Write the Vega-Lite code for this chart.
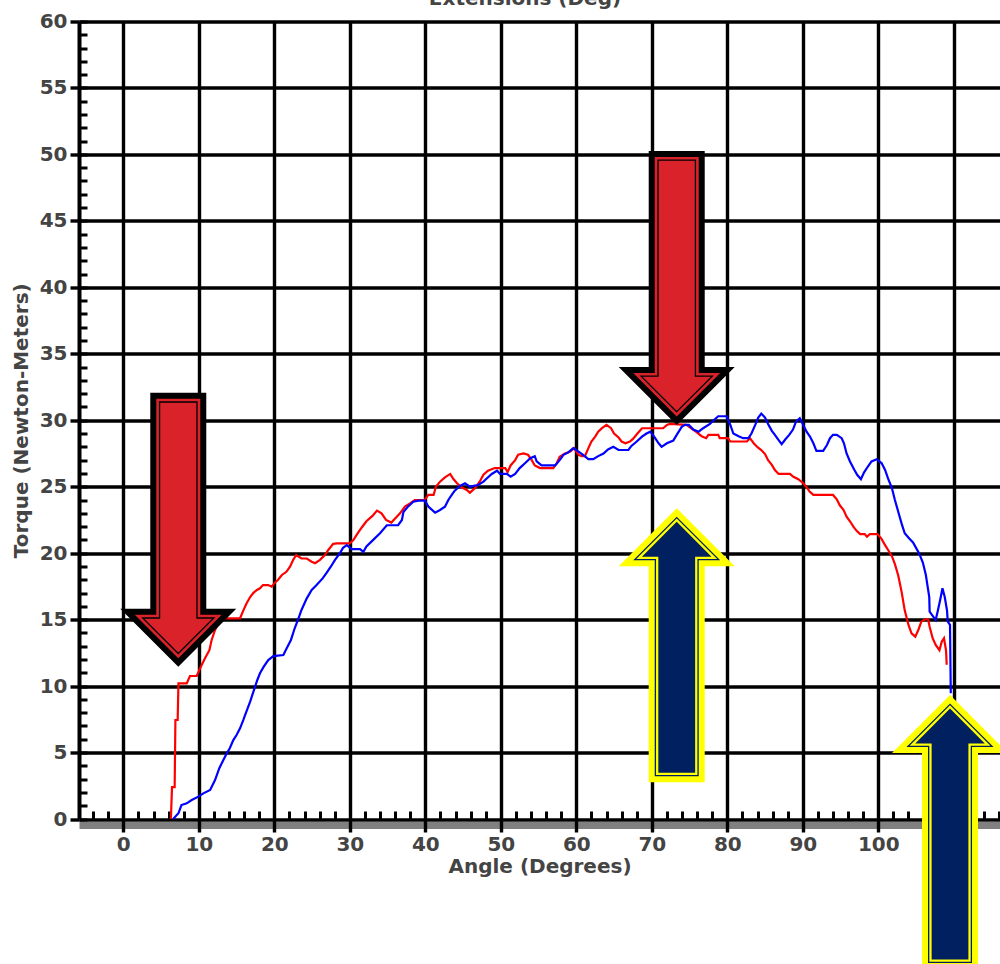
{
  "$schema": "https://vega.github.io/schema/vega-lite/v6.json",
  "width": 921,
  "height": 797.5,
  "autosize": {"type": "none"},
  "padding": {"left": 79, "top": 21.5, "right": 0, "bottom": 145},
  "background": "white",
  "config": {"view": {"stroke": null}},
  "datasets": {
    "red": [
      {"x":6.3,"y":0},{"x":6.45,"y":2.4},{"x":6.8,"y":2.4},{"x":6.9,"y":7.45},{"x":7.2,"y":7.45},{"x":7.3,"y":10.2},{"x":8.4,"y":10.2},{"x":8.83,"y":10.76},{"x":9.72,"y":10.76},{"x":10.03,"y":11.16},{"x":10.38,"y":11.59},{"x":10.82,"y":12.09},{"x":11.4,"y":12.7},{"x":11.7,"y":13.47},{"x":12.15,"y":14.22},{"x":12.6,"y":14.72},{"x":13.2,"y":15.1},{"x":14.36,"y":15.1},{"x":15.46,"y":15.1},{"x":15.9,"y":15.7},{"x":16.3,"y":16.2},{"x":16.8,"y":16.7},{"x":17.2,"y":17.0},{"x":17.7,"y":17.23},{"x":18.1,"y":17.36},{"x":18.5,"y":17.6},{"x":19.2,"y":17.6},{"x":19.65,"y":17.48},{"x":20.1,"y":17.8},{"x":20.5,"y":18.0},{"x":21.0,"y":18.36},{"x":21.6,"y":18.6},{"x":22.1,"y":19.0},{"x":22.5,"y":19.5},{"x":22.9,"y":19.86},{"x":23.6,"y":19.6},{"x":24.3,"y":19.6},{"x":24.95,"y":19.36},{"x":25.4,"y":19.24},{"x":26.05,"y":19.5},{"x":26.7,"y":19.86},{"x":27.15,"y":20.24},{"x":27.8,"y":20.7},{"x":28.3,"y":20.74},{"x":30.0,"y":20.74},{"x":30.5,"y":21.0},{"x":30.9,"y":21.37},{"x":31.35,"y":21.75},{"x":31.8,"y":22.1},{"x":32.2,"y":22.4},{"x":33.0,"y":22.8},{"x":33.6,"y":23.2},{"x":34.2,"y":23.0},{"x":34.8,"y":22.5},{"x":35.5,"y":22.3},{"x":36.0,"y":22.6},{"x":36.65,"y":23.0},{"x":37.3,"y":23.5},{"x":37.97,"y":23.75},{"x":38.6,"y":24.0},{"x":39.9,"y":24.0},{"x":40.4,"y":24.38},{"x":41.1,"y":24.38},{"x":41.4,"y":25.0},{"x":41.95,"y":25.38},{"x":42.6,"y":25.7},{"x":43.3,"y":25.96},{"x":43.7,"y":25.6},{"x":44.2,"y":25.26},{"x":44.8,"y":24.96},{"x":45.5,"y":24.75},{"x":45.9,"y":24.55},{"x":46.6,"y":24.9},{"x":47.2,"y":25.38},{"x":47.7,"y":25.9},{"x":48.3,"y":26.2},{"x":49.2,"y":26.4},{"x":50.6,"y":26.4},{"x":50.9,"y":26.1},{"x":51.3,"y":26.6},{"x":51.9,"y":27.0},{"x":52.3,"y":27.4},{"x":53.0,"y":27.5},{"x":53.6,"y":27.4},{"x":54.1,"y":27.0},{"x":54.5,"y":26.6},{"x":55.2,"y":26.4},{"x":56.96,"y":26.4},{"x":57.4,"y":26.76},{"x":57.8,"y":27.26},{"x":58.5,"y":27.5},{"x":59.2,"y":27.64},{"x":59.7,"y":27.9},{"x":60.3,"y":27.4},{"x":60.7,"y":27.3},{"x":61.15,"y":27.3},{"x":61.6,"y":27.9},{"x":62.0,"y":28.4},{"x":62.5,"y":28.77},{"x":62.9,"y":29.14},{"x":63.4,"y":29.4},{"x":64.0,"y":29.65},{"x":64.6,"y":29.4},{"x":65.0,"y":29.0},{"x":65.6,"y":28.7},{"x":66.0,"y":28.4},{"x":66.5,"y":28.27},{"x":67.1,"y":28.4},{"x":67.5,"y":28.6},{"x":68.1,"y":29.0},{"x":68.7,"y":29.4},{"x":71.5,"y":29.4},{"x":72.0,"y":29.65},{"x":72.4,"y":29.72},{"x":74.6,"y":29.65},{"x":75.5,"y":29.27},{"x":75.85,"y":29.14},{"x":76.6,"y":28.8},{"x":77.2,"y":28.65},{"x":77.5,"y":28.9},{"x":78.8,"y":28.9},{"x":79.0,"y":28.65},{"x":80.1,"y":28.65},{"x":80.4,"y":28.4},{"x":82.6,"y":28.4},{"x":83.0,"y":28.65},{"x":83.5,"y":28.27},{"x":84.0,"y":27.97},{"x":84.5,"y":27.76},{"x":85.0,"y":27.46},{"x":85.4,"y":27.0},{"x":85.9,"y":26.64},{"x":86.3,"y":26.26},{"x":86.8,"y":25.96},{"x":88.3,"y":25.96},{"x":88.7,"y":25.76},{"x":89.4,"y":25.56},{"x":90.06,"y":25.26},{"x":90.5,"y":24.96},{"x":90.9,"y":24.63},{"x":91.4,"y":24.38},{"x":94.0,"y":24.38},{"x":94.5,"y":24.05},{"x":94.9,"y":23.6},{"x":95.4,"y":23.25},{"x":95.8,"y":22.75},{"x":96.25,"y":22.4},{"x":96.7,"y":22.0},{"x":97.1,"y":21.7},{"x":97.6,"y":21.44},{"x":98.2,"y":21.44},{"x":98.5,"y":21.24},{"x":98.9,"y":21.44},{"x":99.9,"y":21.44},{"x":100.4,"y":21.1},{"x":100.8,"y":20.7},{"x":101.3,"y":20.24},{"x":101.8,"y":19.77},{"x":102.2,"y":19.17},{"x":102.65,"y":18.3},{"x":103.1,"y":17.05},{"x":103.5,"y":15.7},{"x":104.0,"y":14.6},{"x":104.4,"y":13.97},{"x":104.9,"y":13.72},{"x":105.3,"y":14.22},{"x":105.7,"y":14.85},{"x":106.2,"y":15.03},{"x":106.6,"y":15.03},{"x":106.8,"y":14.47},{"x":107.2,"y":13.6},{"x":107.6,"y":13.1},{"x":108.1,"y":12.7},{"x":108.4,"y":13.34},{"x":108.7,"y":13.6},{"x":108.97,"y":12.7},{"x":109.06,"y":11.6}
    ],
    "blue": [
      {"x":6.6,"y":0},{"x":7.3,"y":0.43},{"x":7.7,"y":1.05},{"x":8.4,"y":1.18},{"x":9.06,"y":1.43},{"x":9.94,"y":1.68},{"x":10.6,"y":1.93},{"x":11.5,"y":2.18},{"x":12.15,"y":2.93},{"x":12.7,"y":3.8},{"x":13.25,"y":4.44},{"x":13.7,"y":4.94},{"x":14.1,"y":5.32},{"x":14.57,"y":5.94},{"x":15.0,"y":6.32},{"x":15.46,"y":6.82},{"x":15.9,"y":7.45},{"x":16.3,"y":8.07},{"x":16.8,"y":8.83},{"x":17.3,"y":9.7},{"x":17.75,"y":10.46},{"x":18.1,"y":10.96},{"x":18.6,"y":11.46},{"x":19.2,"y":11.96},{"x":19.87,"y":12.26},{"x":21.2,"y":12.34},{"x":21.64,"y":12.84},{"x":22.2,"y":13.47},{"x":22.7,"y":14.35},{"x":23.2,"y":15.1},{"x":23.6,"y":15.73},{"x":24.3,"y":16.6},{"x":24.95,"y":17.23},{"x":25.6,"y":17.6},{"x":26.4,"y":18.1},{"x":26.9,"y":18.5},{"x":27.5,"y":19.0},{"x":28.04,"y":19.5},{"x":28.7,"y":20.0},{"x":29.1,"y":20.4},{"x":29.6,"y":20.6},{"x":30.25,"y":20.3},{"x":31.35,"y":20.3},{"x":31.8,"y":20.1},{"x":32.2,"y":20.5},{"x":33.1,"y":21.0},{"x":34.0,"y":21.5},{"x":34.9,"y":22.1},{"x":36.4,"y":22.1},{"x":36.9,"y":22.5},{"x":37.1,"y":23.1},{"x":37.7,"y":23.5},{"x":38.4,"y":23.87},{"x":39.1,"y":23.95},{"x":39.95,"y":23.95},{"x":40.4,"y":23.5},{"x":41.3,"y":23.05},{"x":41.95,"y":23.25},{"x":42.6,"y":23.5},{"x":43.05,"y":24.0},{"x":43.5,"y":24.38},{"x":43.9,"y":24.7},{"x":44.6,"y":25.06},{"x":45.26,"y":25.26},{"x":45.9,"y":25.0},{"x":46.4,"y":25.06},{"x":47.0,"y":25.13},{"x":47.7,"y":25.38},{"x":48.1,"y":25.6},{"x":48.8,"y":25.96},{"x":49.5,"y":26.2},{"x":49.9,"y":25.96},{"x":50.8,"y":25.96},{"x":51.3,"y":25.76},{"x":51.9,"y":25.96},{"x":52.5,"y":26.4},{"x":53.2,"y":26.76},{"x":53.9,"y":27.14},{"x":54.5,"y":27.3},{"x":54.75,"y":26.9},{"x":55.4,"y":26.6},{"x":57.2,"y":26.6},{"x":57.8,"y":27.0},{"x":58.3,"y":27.4},{"x":58.9,"y":27.56},{"x":59.6,"y":27.9},{"x":60.3,"y":27.64},{"x":60.9,"y":27.4},{"x":61.6,"y":27.07},{"x":62.25,"y":27.07},{"x":62.9,"y":27.3},{"x":63.6,"y":27.5},{"x":64.2,"y":27.8},{"x":64.9,"y":28.0},{"x":65.6,"y":27.76},{"x":66.9,"y":27.76},{"x":67.3,"y":28.07},{"x":68.0,"y":28.4},{"x":68.7,"y":28.77},{"x":69.3,"y":29.0},{"x":69.8,"y":29.14},{"x":70.4,"y":28.7},{"x":70.9,"y":28.27},{"x":71.3,"y":28.0},{"x":72.0,"y":28.27},{"x":72.85,"y":28.47},{"x":73.3,"y":28.9},{"x":73.96,"y":29.5},{"x":74.4,"y":29.65},{"x":74.9,"y":29.65},{"x":75.5,"y":29.3},{"x":76.2,"y":29.14},{"x":76.8,"y":29.4},{"x":77.7,"y":29.72},{"x":78.2,"y":30.0},{"x":78.8,"y":30.3},{"x":79.9,"y":30.3},{"x":80.4,"y":29.65},{"x":80.8,"y":29.0},{"x":81.5,"y":28.8},{"x":82.1,"y":28.65},{"x":82.8,"y":28.65},{"x":83.2,"y":29.0},{"x":83.7,"y":29.65},{"x":84.1,"y":30.2},{"x":84.5,"y":30.5},{"x":85.0,"y":30.2},{"x":85.4,"y":29.72},{"x":85.9,"y":29.2},{"x":86.3,"y":28.9},{"x":86.8,"y":28.5},{"x":87.2,"y":28.2},{"x":87.7,"y":28.57},{"x":88.2,"y":28.9},{"x":88.7,"y":29.3},{"x":89.1,"y":29.9},{"x":89.6,"y":30.15},{"x":90.06,"y":29.65},{"x":90.5,"y":29.14},{"x":90.95,"y":28.77},{"x":91.4,"y":28.27},{"x":91.8,"y":27.7},{"x":92.7,"y":27.7},{"x":93.2,"y":28.14},{"x":93.6,"y":28.65},{"x":94.0,"y":28.9},{"x":94.5,"y":28.9},{"x":95.15,"y":28.65},{"x":95.45,"y":28.27},{"x":95.8,"y":27.5},{"x":96.25,"y":26.9},{"x":96.8,"y":26.3},{"x":97.2,"y":25.9},{"x":97.7,"y":25.56},{"x":98.1,"y":26.06},{"x":98.6,"y":26.5},{"x":99.1,"y":26.9},{"x":99.8,"y":27.07},{"x":100.45,"y":26.76},{"x":100.9,"y":26.26},{"x":101.3,"y":25.6},{"x":101.8,"y":24.9},{"x":102.2,"y":24.0},{"x":102.65,"y":23.1},{"x":103.1,"y":22.2},{"x":103.5,"y":21.5},{"x":104.1,"y":21.1},{"x":104.6,"y":20.8},{"x":105.0,"y":20.4},{"x":105.4,"y":20.0},{"x":105.9,"y":19.3},{"x":106.3,"y":18.36},{"x":106.75,"y":16.7},{"x":106.8,"y":15.6},{"x":107.3,"y":15.2},{"x":107.6,"y":14.97},{"x":107.9,"y":15.7},{"x":108.2,"y":16.5},{"x":108.5,"y":17.36},{"x":108.8,"y":16.7},{"x":109.1,"y":15.7},{"x":109.2,"y":14.85},{"x":109.5,"y":14.6},{"x":109.6,"y":9.46}
    ],
    "down": [{"x":7.28,"y":11.46},{"x":73.3,"y":29.65}],
    "up": [{"x":73.3,"y":23.38},{"x":109.5,"y":9.33}]
  },
  "layer": [
    {
      "data": {"name": "red"},
      "mark": {"type": "line", "color": "#ff0000", "strokeWidth": 2.2},
      "encoding": {
        "x": {"field": "x", "type": "quantitative", "scale": {"domain": [-5.87, 116.12], "nice": false, "zero": false},
          "axis": {"orient": "bottom", "offset": 6, "domain": true, "domainColor": "#808080", "domainWidth": 7, "ticks": false, "labels": false, "grid": false, "title": null}},
        "y": {"field": "y", "type": "quantitative", "scale": {"domain": [0, 60], "nice": false, "zero": false},
          "axis": {"orient": "left", "offset": -8, "values": [0,1,2,3,4,5,6,7,8,9,10,11,12,13,14,15,16,17,18,19,20,21,22,23,24,25,26,27,28,29,30,31,32,33,34,35,36,37,38,39,40,41,42,43,44,45,46,47,48,49,50,51,52,53,54,55,56,57,58,59,60], "domain": false, "ticks": true, "tickSize": 8, "tickWidth": 3, "tickColor": "black", "labels": false, "grid": false, "title": null}}
      }
    },
    {
      "data": {"name": "blue"},
      "mark": {"type": "line", "color": "#0000ff", "strokeWidth": 2.2},
      "encoding": {
        "x": {"field": "x", "type": "quantitative", "scale": {"domain": [-5.87, 116.12], "nice": false, "zero": false},
          "axis": {"orient": "bottom", "offset": -8, "values": [-4,-2,0,2,4,6,8,10,12,14,16,18,20,22,24,26,28,30,32,34,36,38,40,42,44,46,48,50,52,54,56,58,60,62,64,66,68,70,72,74,76,78,80,82,84,86,88,90,92,94,96,98,100,102,104,106,108,110,112,114,116], "domain": false, "ticks": true, "tickSize": 8, "tickWidth": 3, "tickColor": "black", "labels": false, "grid": false, "title": null}},
        "y": {"field": "y", "type": "quantitative", "scale": {"domain": [0, 60], "nice": false, "zero": false},
          "axis": {"orient": "left", "values": [0,5,10,15,20,25,30,35,40,45,50,55,60], "grid": true, "gridColor": "black", "gridWidth": 3.4, "gridOpacity": 1, "domain": true, "domainColor": "black", "domainWidth": 4, "ticks": true, "tickSize": 9, "tickWidth": 3.4, "tickColor": "black", "labelFont": "DejaVu Sans", "labelFontSize": 20, "labelFontWeight": "bold", "labelColor": "#444", "labelPadding": 3, "labelFlush": false, "labelOverlap": false, "labelBound": false, "title": "Torque (Newton-Meters)", "titleFont": "DejaVu Sans", "titleFontSize": 20, "titleFontWeight": "bold", "titleColor": "#444", "titlePadding": 8}}
      }
    },
    {
      "data": {"name": "down"},
      "mark": {"type": "point", "shape": "M0,0 L-58,-58 L-28,-58 L-28,-274 L28,-274 L28,-58 L58,-58 Z", "size": 4, "filled": true, "fill": "black", "strokeWidth": 0, "opacity": 1},
      "encoding": {
        "x": {"field": "x", "type": "quantitative", "scale": {"domain": [-5.87, 116.12], "nice": false, "zero": false},
          "axis": {"orient": "bottom", "values": [0,10,20,30,40,50,60,70,80,90,100,110], "grid": true, "gridColor": "black", "gridWidth": 3.4, "gridOpacity": 1, "domain": false, "ticks": true, "tickSize": 13, "tickWidth": 3.4, "tickColor": "black", "labelFont": "DejaVu Sans", "labelFontSize": 20, "labelFontWeight": "bold", "labelColor": "#444", "labelPadding": 2, "labelFlush": false, "labelOverlap": false, "labelBound": false, "labelExpr": "datum.value == 110 ? '' : datum.label", "title": "Angle (Degrees)", "titleFont": "DejaVu Sans", "titleFontSize": 20, "titleFontWeight": "bold", "titleColor": "#444", "titlePadding": 2}},
        "y": {"field": "y", "type": "quantitative", "scale": {"domain": [0, 60], "nice": false, "zero": false}, "axis": null}
      }
    },
    {
      "data": {"name": "down"},
      "mark": {"type": "point", "shape": "M0,-8.5 L-43.5,-52 L-22,-52 L-22,-268 L22,-268 L22,-52 L43.5,-52 Z", "size": 4, "filled": true, "fill": "#d9222a", "strokeWidth": 0, "opacity": 1},
      "encoding": {
        "x": {"field": "x", "type": "quantitative", "axis": null},
        "y": {"field": "y", "type": "quantitative", "axis": null}
      }
    },
    {
      "data": {"name": "down"},
      "mark": {"type": "point", "shape": "M0,-13.2 L-35.6,-48.7 L-18.7,-48.7 L-18.7,-264.7 L18.7,-264.7 L18.7,-48.7 L35.6,-48.7 Z", "size": 4, "filled": true, "fill": "#d9222a", "stroke": "black", "strokeWidth": 1.3, "opacity": 1},
      "encoding": {
        "x": {"field": "x", "type": "quantitative", "axis": null},
        "y": {"field": "y", "type": "quantitative", "axis": null}
      }
    },
    {
      "data": {"name": "up"},
      "mark": {"type": "point", "shape": "M0,0 L-58,58 L-28,58 L-28,274 L28,274 L28,58 L58,58 Z", "size": 4, "filled": true, "fill": "#ffff00", "strokeWidth": 0, "opacity": 1},
      "encoding": {
        "x": {"field": "x", "type": "quantitative", "axis": null},
        "y": {"field": "y", "type": "quantitative", "axis": null}
      }
    },
    {
      "data": {"name": "up"},
      "mark": {"type": "point", "shape": "M0,9.4 L-41.95,51.35 L-21.35,51.35 L-21.35,267.35 L21.35,267.35 L21.35,51.35 L41.95,51.35 Z", "size": 4, "filled": true, "fill": "#ffff00", "stroke": "#002060", "strokeWidth": 1.3, "opacity": 1},
      "encoding": {
        "x": {"field": "x", "type": "quantitative", "axis": null},
        "y": {"field": "y", "type": "quantitative", "axis": null}
      }
    },
    {
      "data": {"name": "up"},
      "mark": {"type": "point", "shape": "M0,13.6 L-34.8,48.4 L-18.4,48.4 L-18.4,264.4 L18.4,264.4 L18.4,48.4 L34.8,48.4 Z", "size": 4, "filled": true, "fill": "#002060", "strokeWidth": 0, "opacity": 1},
      "encoding": {
        "x": {"field": "x", "type": "quantitative", "axis": null},
        "y": {"field": "y", "type": "quantitative", "axis": null}
      }
    },
    {
      "data": {"values": [{}]},
      "mark": {"type": "text", "text": "Extensions (Deg)", "font": "DejaVu Sans", "fontSize": 20, "fontWeight": "bold", "color": "#444", "align": "center", "baseline": "alphabetic"},
      "encoding": {
        "x": {"datum": 53.2, "type": "quantitative", "axis": null},
        "y": {"datum": 61.24, "type": "quantitative", "axis": null}
      }
    }
  ],
  "resolve": {"axis": {"x": "independent", "y": "independent"}}
}
